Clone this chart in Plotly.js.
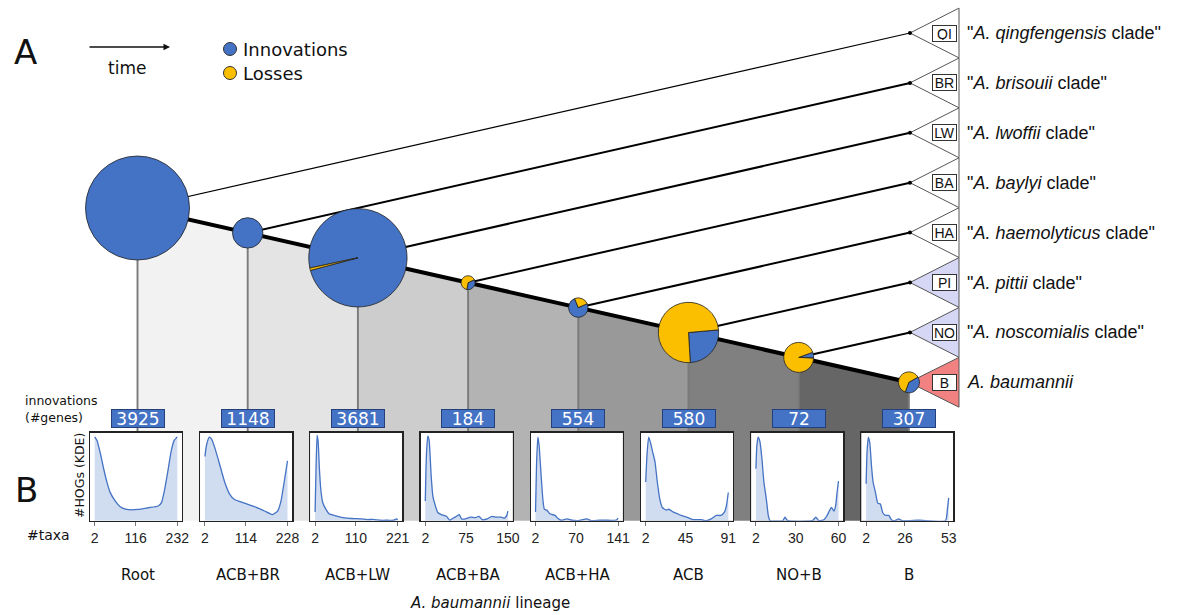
<!DOCTYPE html>
<html><head><meta charset="utf-8">
<script src="https://cdn.plot.ly/plotly-3.0.1.min.js"></script>
<style>html,body{margin:0;padding:0;background:#fff}#chart{width:1179px;height:615px}</style>
</head><body><div id="chart"></div>
<script>
// ---------------- data ----------------
const nodeNames = ['Root','ACB+BR','ACB+LW','ACB+BA','ACB+HA','ACB','NO+B','B'];
const innovations = [3925,1148,3681,184,554,580,72,307];
const losses = [0,0,30,341,180,1700,1060,480];
const cladeCodes = ['QI','BR','LW','BA','HA','PI','NO','B'];
const cladeNames = ['"<i>A. qingfengensis</i> clade"','"<i>A. brisouii</i> clade"','"<i>A. lwoffii</i> clade"','"<i>A. baylyi</i> clade"','"<i>A. haemolyticus</i> clade"','"<i>A. pittii</i> clade"','"<i>A. noscomialis</i> clade"','<i>A. baumannii</i>'];
const taxaTickText = [['2','116','232'],['2','114','228'],['2','110','221'],['2','75','150'],['2','70','141'],['2','45','91'],['2','30','60'],['2','26','53']];

const kdeRootX = [2,8.4,17.6,26.8,36,45,59,73,91,123,151,179,188,197,206,215,223,232];
const kdeRootY = [0.953,0.911,0.767,0.593,0.438,0.322,0.225,0.159,0.128,0.128,0.147,0.167,0.205,0.36,0.57,0.79,0.91,0.953];
const kdeBRX = [2,6.5,14,20,29,43,56,70,83,110,138,165,187,201,210,219,228];
const kdeBRY = [0.73,0.86,0.95,0.93,0.83,0.63,0.44,0.30,0.24,0.20,0.16,0.11,0.07,0.11,0.22,0.44,0.68];
const kdeLWX = [2,4.6,7.3,10,13.4,17,22,30,39,52,69,87,100,113,125,140,155,175,195,210,218,221];
const kdeLWY = [0.10,0.63,0.97,0.90,0.59,0.36,0.21,0.135,0.08,0.06,0.04,0.03,0.025,0.023,0.02,0.012,0.015,0.005,0.005,0.005,0.02,0.01];
const kdeBAX = [2,3.8,6.3,8.7,12.4,15.5,20,24.6,30.7,40,46,52,58,63,67,73.5,83,92,98,104,113,121,128.6,138,144,148,150];
const kdeBAY = [0.225,0.71,0.96,0.92,0.52,0.28,0.17,0.09,0.07,0.05,0.005,0.03,0.05,0.07,0.02,0.02,0.04,0.035,0.05,0.012,0.02,0.05,0.04,0.04,0.03,0.06,0.11];
const kdeHAX = [2,3.7,5.9,8,11.4,14.7,17,21,26,30,35,39,45,55,63,74,88,96,110,121,138,141];
const kdeHAY = [0.10,0.63,0.95,0.86,0.52,0.22,0.13,0.12,0.08,0.07,0.06,0.03,0.005,0.02,0.005,0,0.02,0,0.005,0.005,0.008,0.03];
const kdeACBX = [2,3.4,5.2,7.3,9.5,12,14.5,17.3,20,24,27,31.5,36,40,46,53,62,67,72.5,78,83,87,89,91];
const kdeACBY = [0.44,0.75,0.95,0.88,0.78,0.67,0.44,0.24,0.15,0.12,0.13,0.10,0.08,0.06,0.04,0.012,0.012,0,0.02,0.06,0.06,0.10,0.17,0.32];
const kdeNOBX = [2,2.7,3.6,4.8,6.2,7.6,9.2,10.8,12,20.8,22.4,24.3,41.7,44,46.3,49.8,52,55,56.8,58,59,60];
const kdeNOBY = [0.59,0.86,0.95,0.90,0.71,0.44,0.26,0.05,0,0,0.04,0,0,0.04,0,0.01,0.06,0.15,0.11,0.17,0.32,0.45];
const kdeBX = [2,2.6,3.4,4.3,5.3,6.3,7.8,9.2,10.8,12.3,13.9,16,17.6,19.7,22.2,24.2,34.5,51,52.2,53];
const kdeBY = [0.42,0.79,0.95,0.88,0.63,0.44,0.32,0.20,0.19,0.09,0.06,0.06,0.012,0,0.02,0,0.005,0,0.13,0.26];
const kdeX = [kdeRootX,kdeBRX,kdeLWX,kdeBAX,kdeHAX,kdeACBX,kdeNOBX,kdeBX];
const kdeY = [kdeRootY,kdeBRY,kdeLWY,kdeBAY,kdeHAY,kdeACBY,kdeNOBY,kdeBY];

// ---------------- layout / style ----------------
const W = 1179, H = 615;
const BLUE = '#4472c4', YELLOW = '#fcbf00';
const node0 = {x:137.5, y:208}, nodeStep = {x:110.2, y:24.9};
const tip0 = {x:910, y:33}, tipStep = 49.9, baseX = 959, triHalf = 24.9;
const rScale = 52/3925;
const pieStart = [0,0,258,64,66,85,70,60];
const panelColors = ['#f2f2f2','#e4e4e4','#cdcdcd','#b3b3b3','#999999','#808080','#666666'];
const triColors = ['#ffffff','#ffffff','#ffffff','#ffffff','#ffffff','#d6d6f5','#d6d6f5','#f28282'];
const boxTop = 432.7, boxBot = 520.7, boxHalf = 46, boxShift = -1.5;
const FONT = 'DejaVu Sans', FONT2 = 'Liberation Sans';

const nx = i => node0.x + nodeStep.x*i;
const ny = i => node0.y + nodeStep.y*i;
const ty = i => tip0.y + tipStep*i;
const n = nodeNames.length;

const traces = [];
const line = (xs, ys, color, width) => ({x:xs, y:ys, mode:'lines', line:{color, width}, xaxis:'x', yaxis:'y', hoverinfo:'skip', showlegend:false});
const poly = (xs, ys, fill, lc, lw) => ({x:xs, y:ys, mode:'lines', fill:'toself', fillcolor:fill, line:{color:lc, width:lw}, xaxis:'x', yaxis:'y', hoverinfo:'skip', showlegend:false});

// shaded panels
for (let i=0;i<n-1;i++){
  traces.push(poly([nx(i),nx(i+1),nx(i+1),nx(i),nx(i)],[ny(i),ny(i+1),boxBot,boxBot,ny(i)],panelColors[i],'rgba(0,0,0,0)',0));
}
// white plot backgrounds
for (let i=0;i<n;i++){
  const cx = nx(i)+boxShift;
  traces.push(poly([cx-boxHalf,cx+boxHalf,cx+boxHalf,cx-boxHalf,cx-boxHalf],[boxTop,boxTop,boxBot,boxBot,boxTop],'#ffffff','rgba(0,0,0,0)',0));
}
// drop lines
for (let i=0;i<n;i++) traces.push(line([nx(i),nx(i)],[ny(i),boxTop],'#7a7a7a',1.9));
// triangles
for (let i=0;i<n;i++){
  const ax = i<n-1 ? tip0.x : nx(i), ay = i<n-1 ? ty(i) : ny(i);
  traces.push(poly([ax,baseX,baseX,ax],[ay,ty(i)-triHalf,ty(i)+triHalf,ay],triColors[i],'#555',1));
}
// branches
for (let i=0;i<n-1;i++) traces.push(line([nx(i),tip0.x],[ny(i),ty(i)],'#000',i===0?1.2:2));
// main lineage
traces.push(line([nx(0),nx(n-1)],[ny(0),ny(n-1)],'#000',4));
// tip dots
traces.push({x:cladeCodes.slice(0,n-1).map(()=>tip0.x), y:cladeCodes.slice(0,n-1).map((c,i)=>ty(i)), mode:'markers', marker:{color:'#000',size:4}, xaxis:'x', yaxis:'y', hoverinfo:'skip', showlegend:false});
// legend markers
traces.push({x:[230,230], y:[49,73], mode:'markers', marker:{color:[BLUE,YELLOW], size:13, line:{color:'#333',width:1}}, xaxis:'x', yaxis:'y', hoverinfo:'skip', showlegend:false});

// KDE subplots
const layout = {
  width:W, height:H, autosize:false, margin:{l:0,r:0,t:0,b:0}, showlegend:false,
  paper_bgcolor:'#fff', plot_bgcolor:'rgba(0,0,0,0)',
  xaxis:{domain:[0,1], range:[0,W], visible:false, fixedrange:true},
  yaxis:{domain:[0,1], range:[H,0], visible:false, fixedrange:true},
  annotations:[]
};
for (let i=0;i<n;i++){
  const k = i+2, cx = nx(i)+boxShift;
  const xmin = 2, xmax = Number(taxaTickText[i][2]), pad = 0.057*(xmax-xmin);
  traces.push({x:kdeX[i], y:kdeY[i], mode:'lines', line:{color:BLUE,width:1.3,shape:'spline',smoothing:0.5},
    fill:'tozeroy', fillcolor:'rgba(68,114,196,0.25)', xaxis:'x'+k, yaxis:'y'+k, hoverinfo:'skip', showlegend:false});
  layout['xaxis'+k] = {domain:[(cx-boxHalf)/W,(cx+boxHalf)/W], anchor:'y'+k, range:[xmin-pad,xmax+pad],
    tickmode:'array', tickvals:taxaTickText[i].map(Number), ticktext:taxaTickText[i], ticks:'outside', ticklen:4, tickwidth:1, tickcolor:'#777',
    showline:true, mirror:true, linecolor:'#222', linewidth:1.3, showgrid:false, zeroline:false,
    tickfont:{family:FONT2,size:14,color:'#222'}, fixedrange:true};
  layout['yaxis'+k] = {domain:[1-boxBot/H,1-boxTop/H], anchor:'x'+k, range:[0,1], showticklabels:false, ticks:'',
    showline:true, mirror:true, linecolor:'#222', linewidth:1.3, showgrid:false, zeroline:false, fixedrange:true};
}

// pies
for (let i=0;i<n;i++){
  const r = rScale*(innovations[i]+losses[i]);
  const cx = nx(i), cy = ny(i);
  const vals = losses[i] > 0 ? [innovations[i],losses[i]] : [innovations[i]];
  traces.push({type:'pie', values:vals, labels:['Innovations','Losses'].slice(0,vals.length), sort:false, direction:'clockwise', rotation:pieStart[i],
    marker:{colors:[BLUE,YELLOW], line:{color:'#222',width:0.8}}, textinfo:'none', hoverinfo:'skip', showlegend:false,
    domain:{x:[(cx-r)/W,(cx+r)/W], y:[1-(cy+r)/H,1-(cy-r)/H]}});
}

// annotations
const A = layout.annotations;
const txt = (x,y,text,size,opts={}) => A.push(Object.assign({x,y,xref:'x',yref:'y',text,showarrow:false,font:{family:FONT,size,color:'#111'}},opts));
txt(25,52,'A',34);
txt(26,490,'B',34);
txt(127,68,'time',17);
A.push({x:170,y:47,ax:88,ay:47,xref:'x',yref:'y',axref:'x',ayref:'y',text:'',showarrow:true,arrowhead:2,arrowsize:1,arrowwidth:1.3,arrowcolor:'#111'});
txt(241,49,'Innovations',18,{xanchor:'left'});
txt(241,73,'Losses',18,{xanchor:'left'});
txt(23,400,'innovations',12.5,{xanchor:'left'});
txt(23,417,'(#genes)',12.5,{xanchor:'left'});
txt(79,476,'#HOGs (KDE)',12.5,{textangle:-90});
txt(72,535,'#taxa',14,{xanchor:'right'});
for (let i=0;i<n;i++){
  A.push({x:nx(i),y:418,xref:'x',yref:'y',text:String(innovations[i]),showarrow:false,width:50,height:15,borderpad:1,
    bgcolor:BLUE,bordercolor:'#23407a',borderwidth:1,font:{family:FONT,size:17,color:'#fff'}});
  txt(nx(i),575,nodeNames[i],15);
  const y = i<n-1 ? ty(i) : ny(i);
  A.push({x:944.5,y:y,xref:'x',yref:'y',text:cladeCodes[i],showarrow:false,width:21,height:13,borderpad:1,
    bgcolor:'#fff',bordercolor:'#333',borderwidth:1,font:{family:FONT2,size:14,color:'#111'}});
  txt(965,y,cladeNames[i],18,{xanchor:'left',font:{family:FONT2,size:18,color:'#111'}});
}
txt(490,603,'<i>A. baumannii</i> lineage',15);

Plotly.newPlot('chart', traces, layout, {staticPlot:true, displayModeBar:false});
</script></body></html>
